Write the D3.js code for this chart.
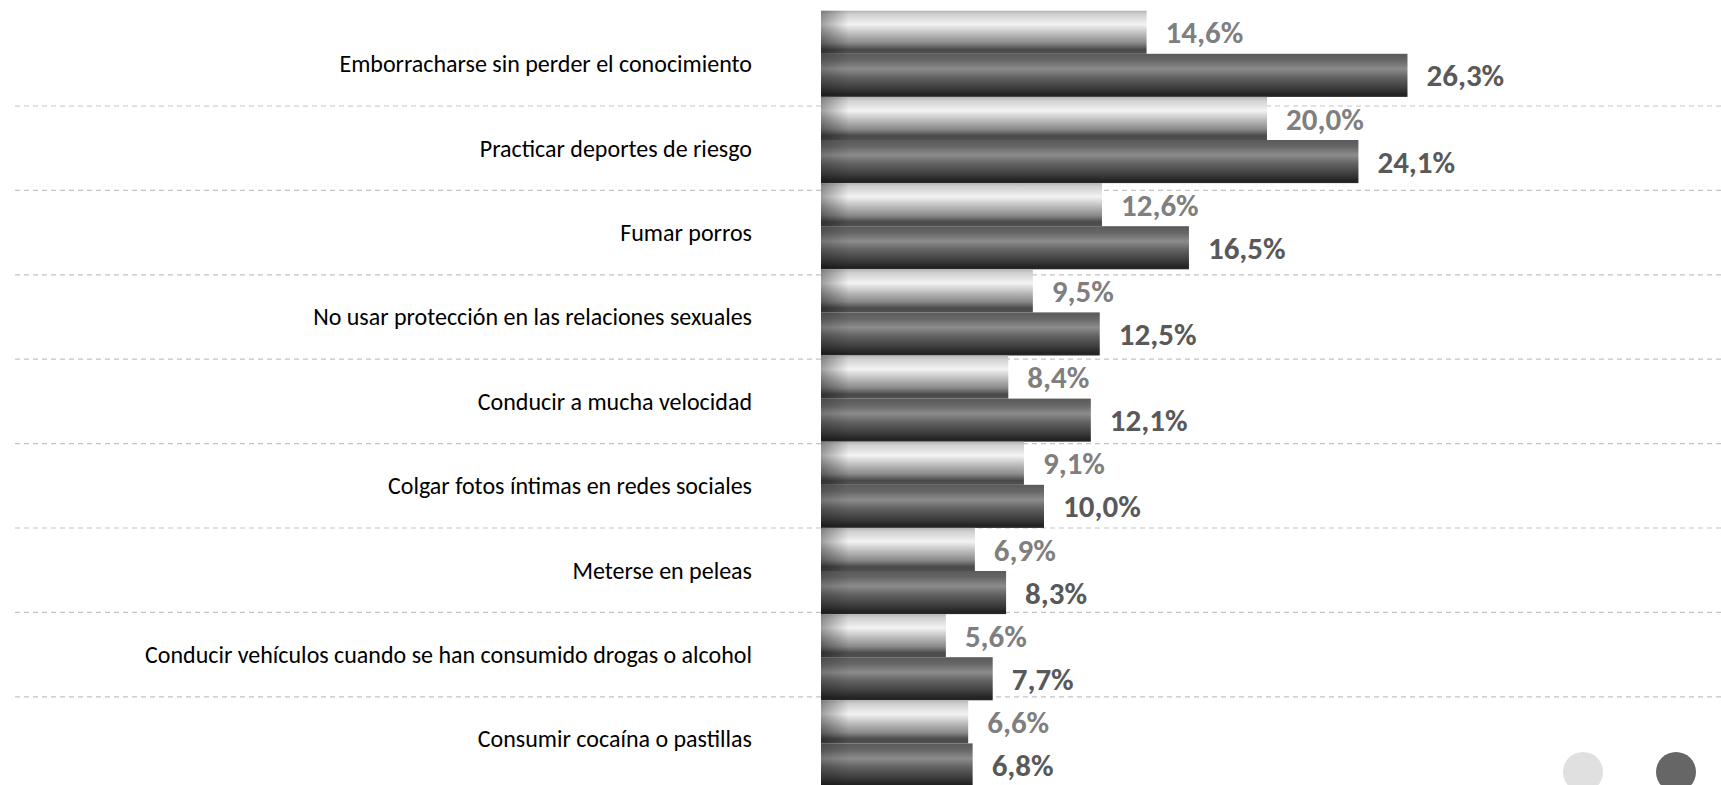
<!DOCTYPE html>
<html>
<head>
<meta charset="utf-8">
<script src="https://cdn.jsdelivr.net/npm/d3@7/dist/d3.min.js"></script>
<style>
  body { margin: 0; background: #fff; }
  svg { display: block; }
  .cat { font-family: Carlito, Calibri, Lato, sans-serif; font-size: 24px; fill: #000; }
  .val { font-family: Carlito, Calibri, Lato, sans-serif; font-size: 31px; font-weight: 900; }
</style>
</head>
<body>
<svg id="chart"></svg>
<script>
var categories = [
  "Emborracharse sin perder el conocimiento",
  "Practicar deportes de riesgo",
  "Fumar porros",
  "No usar protección en las relaciones sexuales",
  "Conducir a mucha velocidad",
  "Colgar fotos íntimas en redes sociales",
  "Meterse en peleas",
  "Conducir vehículos cuando se han consumido drogas o alcohol",
  "Consumir cocaína o pastillas"
];
var seriesLight = [14.6, 20.0, 12.6, 9.5, 8.4, 9.1, 6.9, 5.6, 6.6];
var seriesDark = [26.3, 24.1, 16.5, 12.5, 12.1, 10.0, 8.3, 7.7, 6.8];
var seriesNames = ["light", "dark"];

var width = 1721, height = 785;
var svg = d3.select("#chart").attr("width", width).attr("height", height);

var x = d3.scaleLinear().domain([0, 40]).range([821, 821 + 40 * 22.3]);

// label / gridline bands
var yCat = d3.scaleBand().domain(categories).range([21.6, 21.6 + 9 * 84.4]);
// bar bands (bars sit slightly offset from the label bands)
var yBar = d3.scaleBand().domain(categories).range([10.7, 10.7 + 9 * 86.2]);
var ySub = d3.scaleBand().domain(seriesNames).range([0, yBar.bandwidth()]);

var defs = svg.append("defs");

var gLight = defs.append("linearGradient").attr("id", "gradLight")
  .attr("x1", 0).attr("y1", 0).attr("x2", 0).attr("y2", 1);
[[0, "#b4b4b4"], [0.08, "#cfcfcf"], [0.32, "#f3f3f3"], [0.55, "#b9b9b9"],
 [0.75, "#8a8a8a"], [0.9, "#4a4a4a"], [1, "#505050"]].forEach(function(s) {
  gLight.append("stop").attr("offset", s[0]).attr("stop-color", s[1]);
});

var gDark = defs.append("linearGradient").attr("id", "gradDark")
  .attr("x1", 0).attr("y1", 0).attr("x2", 0).attr("y2", 1);
[[0, "#5a5a5a"], [0.15, "#666666"], [0.35, "#8c8c8c"], [0.55, "#626262"],
 [0.8, "#3c3c3c"], [0.95, "#222222"], [1, "#2a2a2a"]].forEach(function(s) {
  gDark.append("stop").attr("offset", s[0]).attr("stop-color", s[1]);
});

// darker shading at the left end of each bar
var gEdge = defs.append("linearGradient").attr("id", "gradEdge")
  .attr("x1", 0).attr("y1", 0).attr("x2", 1).attr("y2", 0);
gEdge.append("stop").attr("offset", 0).attr("stop-color", "#000").attr("stop-opacity", 0.35);
gEdge.append("stop").attr("offset", 1).attr("stop-color", "#000").attr("stop-opacity", 0);

// dashed gridlines between categories
svg.append("g")
  .selectAll("line")
  .data(categories.slice(1))
  .enter().append("line")
  .attr("x1", 15)
  .attr("x2", width)
  .attr("y1", function(d) { return yCat(d); })
  .attr("y2", function(d) { return yCat(d); })
  .attr("stroke", "#c4c4c4")
  .attr("stroke-width", 1.2)
  .attr("stroke-dasharray", "5,4");

var rows = categories.map(function(c, i) {
  return {cat: c, light: seriesLight[i], dark: seriesDark[i]};
});

var group = svg.append("g").selectAll("g")
  .data(rows)
  .enter().append("g")
  .attr("transform", function(d) { return "translate(0," + yBar(d.cat) + ")"; });

seriesNames.forEach(function(s) {
  group.append("rect")
    .attr("x", x(0))
    .attr("y", ySub(s))
    .attr("width", function(d) { return x(d[s]) - x(0); })
    .attr("height", ySub.bandwidth())
    .attr("fill", s == "light" ? "url(#gradLight)" : "url(#gradDark)");

  group.append("rect")
    .attr("x", x(0))
    .attr("y", ySub(s))
    .attr("width", 28)
    .attr("height", ySub.bandwidth())
    .attr("fill", "url(#gradEdge)")
    .attr("opacity", s == "light" ? 1 : 0.5);

  group.append("text")
    .attr("class", "val")
    .attr("x", function(d) { return x(d[s]) + 19; })
    .attr("y", ySub(s) + ySub.bandwidth() / 2)
    .attr("dy", "0.36em")
    .attr("fill", s == "light" ? "#7f7f7f" : "#595959")
    .text(function(d) { return d3.format(".1f")(d[s]).replace(".", ",") + "%"; });
});

// category labels
svg.append("g")
  .selectAll("text")
  .data(categories)
  .enter().append("text")
  .attr("class", "cat")
  .attr("x", 752)
  .attr("y", function(d) { return yCat(d) + yCat.bandwidth() / 2; })
  .attr("dy", "0.35em")
  .attr("text-anchor", "end")
  .text(function(d) { return d; });

// legend markers (cut off at the bottom edge)
svg.append("g")
  .selectAll("circle")
  .data([["#e0e0e0", 1583], ["#666666", 1676]])
  .enter().append("circle")
  .attr("cx", function(d) { return d[1]; })
  .attr("cy", 772)
  .attr("r", 20)
  .attr("fill", function(d) { return d[0]; });
</script>
</body>
</html>
